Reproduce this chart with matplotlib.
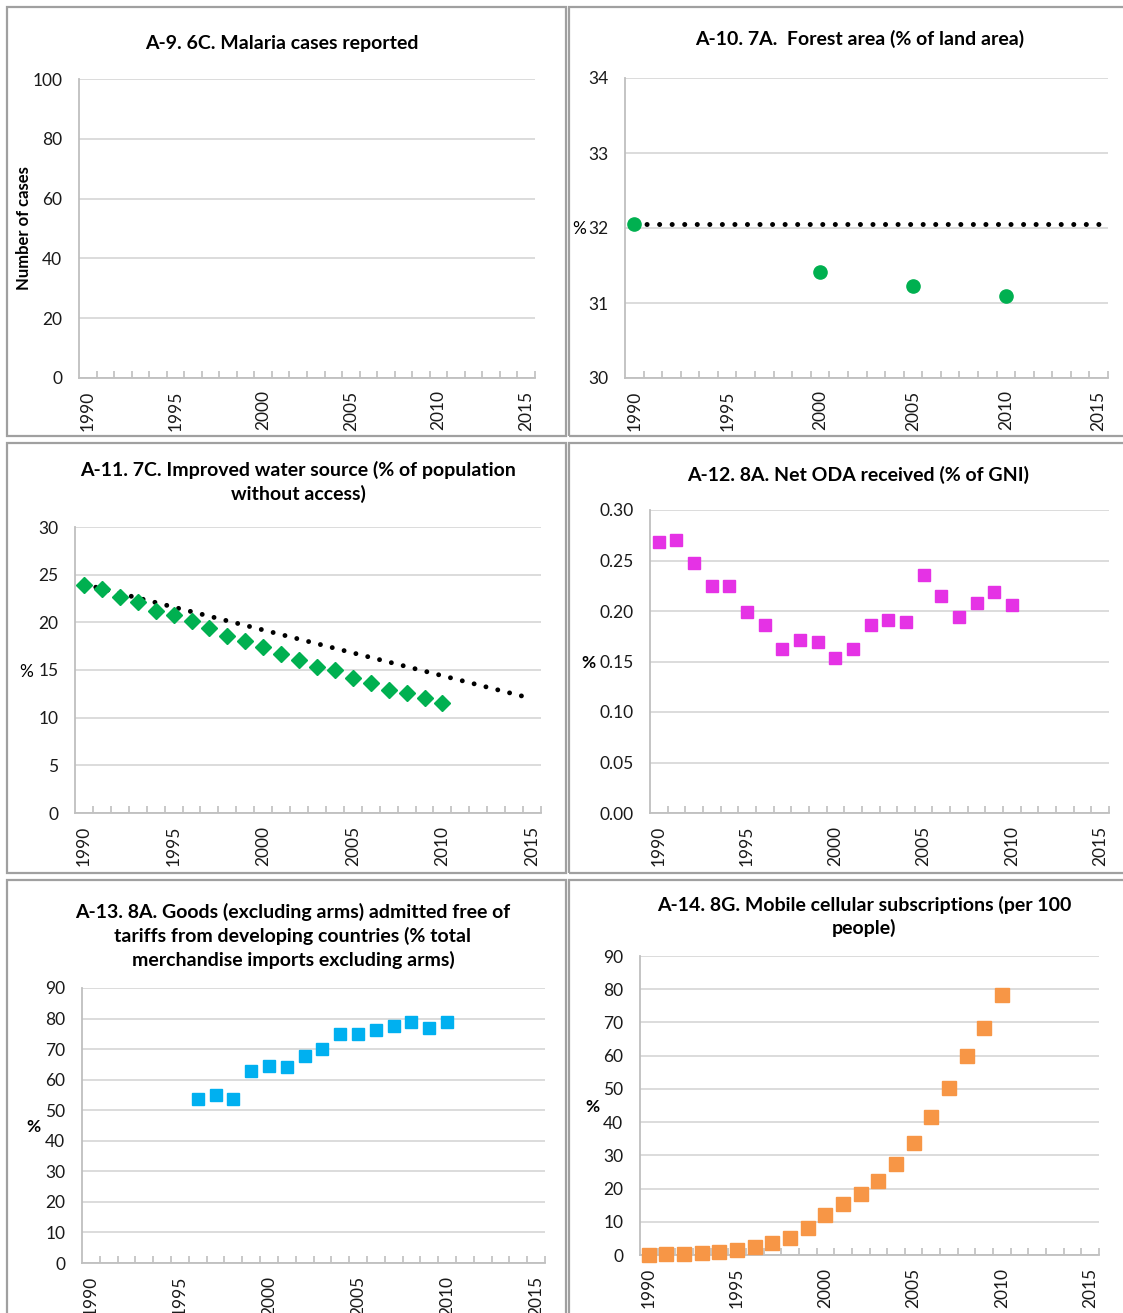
import numpy as np
import matplotlib
matplotlib.use('Agg')
import matplotlib.pyplot as plt
from matplotlib.patches import Rectangle

plt.rcParams['font.family'] = ['Lato', 'DejaVu Sans']

W, H = 1123, 1313

# ---- data ----
forest_years = [1990, 2000, 2005, 2010]
forest_pct = [32.05, 31.42, 31.23, 31.1]
forest_target_years = [1990, 2015]
forest_target = [32.05, 32.05]

water_years = list(range(1990, 2011))
water_pct = [23.95, 23.45, 22.65, 22.1, 21.15, 20.8, 20.1, 19.4, 18.6, 18.0, 17.4,
             16.7, 16.1, 15.3, 15.0, 14.2, 13.6, 12.9, 12.6, 12.1, 11.5]
water_target_years = [1990, 2015]
water_target = [24.0, 12.0]

oda_years = list(range(1990, 2011))
oda_pct = [0.268, 0.270, 0.248, 0.225, 0.225, 0.199, 0.186, 0.162, 0.171, 0.169, 0.153,
           0.162, 0.186, 0.191, 0.189, 0.236, 0.215, 0.194, 0.208, 0.219, 0.206]

goods_years = list(range(1996, 2011))
goods_pct = [53.8, 54.9, 53.6, 62.7, 64.6, 64.0, 67.9, 70.1, 74.8, 74.8, 76.3, 77.5,
             78.9, 76.9, 78.9]

mobile_years = list(range(1990, 2011))
mobile_per100 = [0.05, 0.2, 0.4, 0.5, 0.8, 1.5, 2.3, 3.6, 5.1, 8.0, 12.0, 15.4, 18.3,
                 22.2, 27.3, 33.8, 41.6, 50.4, 59.8, 68.2, 78.2]

year_labels = [1990, 1995, 2000, 2005, 2010, 2015]

GRID = '#D9D9D9'
TXT = '#1a1a1a'

fig = plt.figure(figsize=(W / 100, H / 100), dpi=100)

# panel frames
for (l, t, r, b) in [(7, 7, 566, 436), (569, 7, 1130, 436),
                     (7, 443, 566, 873), (569, 443, 1130, 873),
                     (7, 880, 566, 1330), (569, 880, 1130, 1330)]:
    fig.patches.append(Rectangle((l / W, 1 - b / H), (r - l) / W, (b - t) / H,
                                 transform=fig.transFigure, fill=False,
                                 edgecolor='#A0A0A0', lw=1.6))


def make_ax(l, t, r, b, ylim, yticks, fmt):
    ax = fig.add_axes([l / W, 1 - b / H, (r - l) / W, (b - t) / H])
    ax.set_xlim(1989.5, 2015.5)
    ax.set_ylim(*ylim)
    ax.set_xticks(year_labels)
    ax.set_xticklabels([str(y) for y in year_labels], rotation=90)
    ax.set_xticks(np.arange(1990.5, 2016, 1), minor=True)
    ax.set_yticks(yticks)
    ax.set_yticklabels([fmt.format(v) for v in yticks])
    ax.tick_params(axis='x', which='major', length=0, pad=9, labelsize=12.5,
                   labelcolor=TXT)
    ax.tick_params(axis='x', which='minor', length=5, direction='in',
                   color='#BFBFBF', width=1.2)
    ax.tick_params(axis='y', length=0, pad=12, labelsize=12.5, labelcolor=TXT)
    ax.yaxis.grid(True, color=GRID, lw=1.3)
    ax.set_axisbelow(True)
    for s in ['top', 'right']:
        ax.spines[s].set_visible(False)
    for s in ['left', 'bottom']:
        ax.spines[s].set_color('#BFBFBF')
        ax.spines[s].set_linewidth(1.3)
    return ax


def fig_text(x, y, s, **kw):
    fig.text(x / W, 1 - y / H, s, ha='center', va='center', color='black', **kw)


# A-9
ax1 = make_ax(79, 79, 535, 378, (0, 100), list(range(0, 101, 20)), '{:d}')
fig_text(282, 43, 'A-9. 6C. Malaria cases reported', fontsize=14, fontweight='bold')
fig_text(24, 228, 'Number of cases', fontsize=12, fontweight='bold', rotation=90)

# A-10
ax2 = make_ax(625, 78, 1108, 378, (30, 34), [30, 31, 32, 33, 34], '{:d}')
ax2.plot(forest_target_years, forest_target, color='black', lw=3.6,
         linestyle=(0, (0.01, 2.5)), dash_capstyle='round', zorder=2)
ax2.plot(forest_years, forest_pct, 'o', color='#00B050', ms=9.5, zorder=3,
         clip_on=False)
fig_text(860, 39, 'A-10. 7A.  Forest area (% of land area)', fontsize=14,
         fontweight='bold')
fig_text(579, 229, '%', fontsize=12.5)

# A-11
ax3 = make_ax(75, 527, 541, 813, (0, 30), list(range(0, 31, 5)), '{:d}')
ax3.plot(water_target_years, water_target, color='black', lw=3.5,
         linestyle=(0, (0.01, 2.5)), dash_capstyle='round', zorder=2)
ax3.plot(water_years, water_pct, 'D', color='#00B050', ms=8.6, zorder=3)
fig_text(298, 482, 'A-11. 7C. Improved water source (% of population\nwithout access)',
         fontsize=14, fontweight='bold', linespacing=1.35)
fig_text(26, 672, '%', fontsize=12.5)

# A-12
ax4 = make_ax(650, 510, 1109, 813, (0, 0.30),
              [0.0, 0.05, 0.10, 0.15, 0.20, 0.25, 0.30], '{:.2f}')
ax4.plot(oda_years, oda_pct, 's', color='#E532E5', ms=9.3, zorder=3)
fig_text(858, 475, 'A-12. 8A. Net ODA received (% of GNI)', fontsize=14,
         fontweight='bold')
fig_text(588, 663, '%', fontsize=12.5, fontweight='bold')

# A-13
ax5 = make_ax(82, 988, 545, 1263, (0, 90), list(range(0, 91, 10)), '{:d}')
ax5.plot(goods_years, goods_pct, 's', color='#00B0F0', ms=9.3, zorder=3)
fig_text(293, 936, 'A-13. 8A. Goods (excluding arms) admitted free of\n'
         'tariffs from developing countries (% total\n'
         'merchandise imports excluding arms)',
         fontsize=14, fontweight='bold', linespacing=1.4)
fig_text(33, 1127, '%', fontsize=12.5, fontweight='bold')

# A-14
ax6 = make_ax(640, 956, 1099, 1255, (0, 90), list(range(0, 91, 10)), '{:d}')
ax6.plot(mobile_years, mobile_per100, 's', color='#F79646', ms=9.6, zorder=3,
         clip_on=False)
fig_text(864, 916.5, 'A-14. 8G. Mobile cellular subscriptions (per 100\npeople)',
         fontsize=14, fontweight='bold', linespacing=1.35)
fig_text(592, 1107, '%', fontsize=12.5, fontweight='bold')

fig.savefig('out.png', dpi=100, facecolor='white')
